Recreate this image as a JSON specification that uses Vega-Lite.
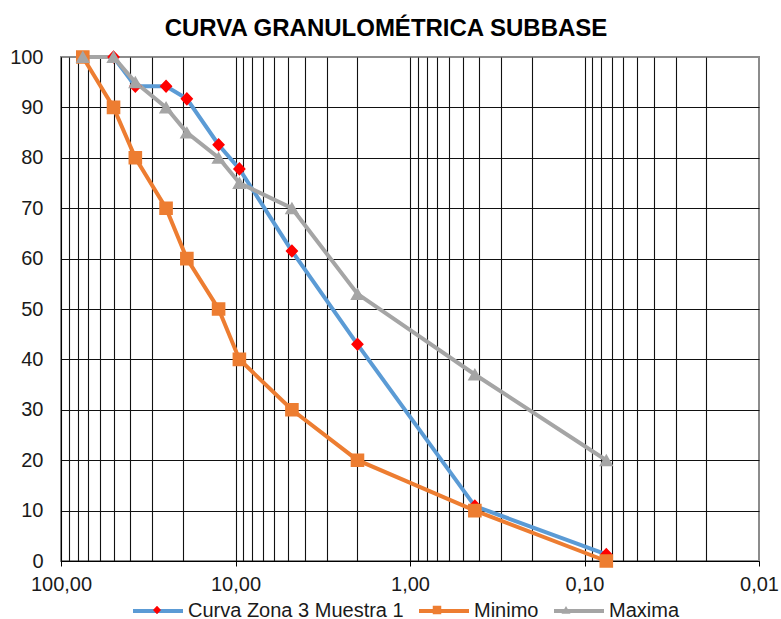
{
  "$schema": "https://vega.github.io/schema/vega-lite/v6.json",
  "width": 698,
  "height": 504,
  "autosize": {"type": "none"},
  "padding": {"left": 61, "top": 57, "right": 22, "bottom": 58},
  "background": "white",
  "title": {
    "text": "CURVA GRANULOMÉTRICA SUBBASE",
    "font": "Liberation Sans",
    "fontSize": 24,
    "fontWeight": "bold",
    "color": "#000000",
    "anchor": "middle",
    "frame": "group",
    "baseline": "alphabetic",
    "dx": -24,
    "offset": -13
  },
  "config": {
    "font": "Liberation Sans",
    "view": {"stroke": "#8c8c8c", "strokeWidth": 2}
  },
  "data": {
    "values": [
      {"tamiz": 50, "pasa": 100, "serie": "Curva Zona 3 Muestra 1"},
      {"tamiz": 37.5, "pasa": 94.2, "serie": "Curva Zona 3 Muestra 1"},
      {"tamiz": 25, "pasa": 94.2, "serie": "Curva Zona 3 Muestra 1"},
      {"tamiz": 19, "pasa": 91.7, "serie": "Curva Zona 3 Muestra 1"},
      {"tamiz": 12.5, "pasa": 82.6, "serie": "Curva Zona 3 Muestra 1"},
      {"tamiz": 9.5, "pasa": 77.8, "serie": "Curva Zona 3 Muestra 1"},
      {"tamiz": 4.75, "pasa": 61.5, "serie": "Curva Zona 3 Muestra 1"},
      {"tamiz": 2.0, "pasa": 43.0, "serie": "Curva Zona 3 Muestra 1"},
      {"tamiz": 0.425, "pasa": 10.9, "serie": "Curva Zona 3 Muestra 1"},
      {"tamiz": 0.075, "pasa": 1.3, "serie": "Curva Zona 3 Muestra 1"},
      {"tamiz": 75, "pasa": 100, "serie": "Minimo"},
      {"tamiz": 50, "pasa": 90, "serie": "Minimo"},
      {"tamiz": 37.5, "pasa": 80, "serie": "Minimo"},
      {"tamiz": 25, "pasa": 70, "serie": "Minimo"},
      {"tamiz": 19, "pasa": 60, "serie": "Minimo"},
      {"tamiz": 12.5, "pasa": 50, "serie": "Minimo"},
      {"tamiz": 9.5, "pasa": 40, "serie": "Minimo"},
      {"tamiz": 4.75, "pasa": 30, "serie": "Minimo"},
      {"tamiz": 2.0, "pasa": 20, "serie": "Minimo"},
      {"tamiz": 0.425, "pasa": 10, "serie": "Minimo"},
      {"tamiz": 0.075, "pasa": 0, "serie": "Minimo"},
      {"tamiz": 75, "pasa": 100, "serie": "Maxima"},
      {"tamiz": 50, "pasa": 100, "serie": "Maxima"},
      {"tamiz": 37.5, "pasa": 95, "serie": "Maxima"},
      {"tamiz": 25, "pasa": 90, "serie": "Maxima"},
      {"tamiz": 19, "pasa": 85, "serie": "Maxima"},
      {"tamiz": 12.5, "pasa": 80, "serie": "Maxima"},
      {"tamiz": 9.5, "pasa": 75, "serie": "Maxima"},
      {"tamiz": 4.75, "pasa": 70, "serie": "Maxima"},
      {"tamiz": 2.0, "pasa": 53, "serie": "Maxima"},
      {"tamiz": 0.425, "pasa": 37, "serie": "Maxima"},
      {"tamiz": 0.075, "pasa": 20, "serie": "Maxima"}
    ]
  },
  "encoding": {
    "x": {
      "field": "tamiz",
      "type": "quantitative",
      "scale": {"type": "log", "domain": [0.01, 100], "reverse": true, "nice": false},
      "axis": {
        "title": null,
        "values": [100, 90, 80, 70, 60, 50, 40, 30, 20, 10, 9, 8, 7, 6, 5, 4, 3, 2, 1, 0.9, 0.8, 0.7, 0.6, 0.5, 0.4, 0.3, 0.2, 0.1, 0.09, 0.08, 0.07, 0.06, 0.05, 0.04, 0.03, 0.02, 0.01],
        "grid": true,
        "gridColor": "#111111",
        "gridWidth": 1.1,
        "gridOpacity": {"condition": {"test": "datum.value == 0.01", "value": 0}, "value": 1},
        "domainColor": "#000000",
        "domainWidth": 1,
        "tickColor": "#000000",
        "tickSize": 5,
        "tickOpacity": {"condition": {"test": "datum.value == 100 || datum.value == 10 || datum.value == 1 || datum.value == 0.1 || datum.value == 0.01", "value": 1}, "value": 0},
        "labelExpr": "(datum.value == 100 || datum.value == 10 || datum.value == 1 || datum.value == 0.1 || datum.value == 0.01) ? replace(format(datum.value, '.2f'), '.', ',') : ''",
        "labelFont": "Liberation Sans",
        "labelFontSize": 20,
        "labelColor": "#1a1a1a",
        "labelPadding": 8,
        "labelFlush": false,
        "labelOverlap": false
      }
    },
    "y": {
      "field": "pasa",
      "type": "quantitative",
      "scale": {"domain": [0, 100], "nice": false},
      "axis": {
        "title": null,
        "values": [0, 10, 20, 30, 40, 50, 60, 70, 80, 90, 100],
        "grid": true,
        "gridColor": "#111111",
        "gridWidth": 1.1,
        "gridOpacity": {"condition": {"test": "datum.value == 100", "value": 0}, "value": 1},
        "ticks": false,
        "domainColor": "#000000",
        "domainWidth": 1,
        "labelFont": "Liberation Sans",
        "labelFontSize": 20,
        "labelColor": "#1a1a1a",
        "labelPadding": 18
      }
    }
  },
  "layer": [
    {
      "mark": {"type": "line", "strokeWidth": 4, "clip": false},
      "encoding": {
        "color": {
          "field": "serie",
          "type": "nominal",
          "sort": ["Curva Zona 3 Muestra 1", "Minimo", "Maxima"],
          "scale": {"range": ["#5B9BD5", "#ED7D31", "#A5A5A5"]},
          "legend": {
            "orient": "none",
            "legendX": 70,
            "legendY": 527,
            "direction": "horizontal",
            "title": null,
            "padding": 0,
            "symbolType": "M-1,0L1,0",
            "symbolSize": 2500,
            "symbolStrokeWidth": 4,
            "labelFont": "Liberation Sans",
            "labelFontSize": 20,
            "labelColor": "#1a1a1a",
            "labelOffset": 3,
            "labelLimit": 400,
            "columnPadding": 7
          }
        }
      }
    },
    {
      "mark": {"type": "point", "filled": true, "size": 6400, "opacity": 1, "strokeWidth": 0, "clip": false},
      "encoding": {
        "fill": {
          "field": "serie",
          "type": "nominal",
          "scale": {
            "domain": ["Curva Zona 3 Muestra 1", "Minimo", "Maxima"],
            "range": ["#FF0000", "#ED7D31", "#A5A5A5"]
          },
          "legend": {
            "orient": "none",
            "legendX": 70,
            "legendY": 527,
            "direction": "horizontal",
            "title": null,
            "padding": 0,
            "symbolSize": 2500,
            "labelFont": "Liberation Sans",
            "labelFontSize": 20,
            "labelColor": "transparent",
            "labelOffset": 3,
            "labelLimit": 400,
            "columnPadding": 7,
            "encode": {
              "symbols": {
                "update": {
                  "stroke": {"value": "#ffffff"},
                  "strokeOpacity": {"value": 0.001},
                  "strokeWidth": {"value": 4},
                  "opacity": {"value": 1},
                  "fillOpacity": {"value": 1}
                }
              }
            }
          }
        },
        "shape": {
          "field": "serie",
          "type": "nominal",
          "scale": {
            "domain": ["Curva Zona 3 Muestra 1", "Minimo", "Maxima"],
            "range": [
              "M-1,0L1,0M0,-0.17L0.16,0L0,0.17L-0.16,0Z",
              "M-1,0L1,0M-0.17,-0.17L0.17,-0.17L0.17,0.17L-0.17,0.17Z",
              "M-1,0L1,0M0,-0.16L0.18,0.15L-0.18,0.15Z"
            ]
          },
          "legend": {
            "orient": "none",
            "legendX": 70,
            "legendY": 527,
            "direction": "horizontal",
            "title": null,
            "padding": 0,
            "symbolSize": 2500,
            "labelFont": "Liberation Sans",
            "labelFontSize": 20,
            "labelColor": "transparent",
            "labelOffset": 3,
            "labelLimit": 400,
            "columnPadding": 7,
            "encode": {
              "symbols": {
                "update": {
                  "stroke": {"value": "#ffffff"},
                  "strokeOpacity": {"value": 0.001},
                  "strokeWidth": {"value": 4},
                  "opacity": {"value": 1},
                  "fillOpacity": {"value": 1}
                }
              }
            }
          }
        }
      }
    }
  ]
}
